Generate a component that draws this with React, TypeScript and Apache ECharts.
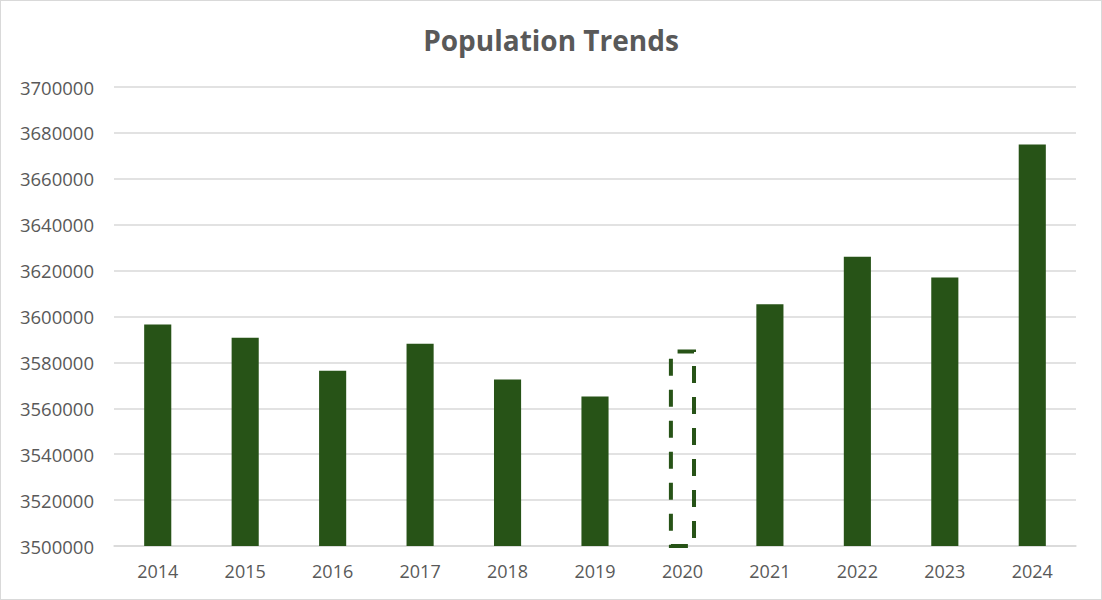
import React, { useEffect, useRef } from "react";
import * as echarts from "echarts";

const years = ["2014", "2015", "2016", "2017", "2018", "2019", "2020", "2021", "2022", "2023", "2024"];
const population = [3596500, 3590700, 3576400, 3588100, 3572500, 3565100, 3585600, 3605300, 3626000, 3617000, 3675000];
const estimatedYear = "2020";

export default function App() {
  const ref = useRef<HTMLDivElement>(null);
  useEffect(() => {
    document.body.style.margin = "0";
    const chart = echarts.init(ref.current!, null, { renderer: "svg" });
    const green = "#275317";
    chart.setOption({
      animation: false,
      backgroundColor: "#ffffff",
      title: {
        text: "Population Trends",
        left: "center",
        top: 20,
        textStyle: { fontFamily: "Open Sans", fontWeight: "bold", fontSize: 28, color: "#595959" },
      },
      grid: { left: 113, right: 25, top: 86, bottom: 53 },
      xAxis: {
        type: "category",
        data: years,
        axisLine: { show: true, lineStyle: { color: "#d9d9d9", width: 1.5 } },
        axisTick: { show: false },
        axisLabel: { color: "#595959", fontSize: 18, fontFamily: "Open Sans", margin: 16 },
      },
      yAxis: {
        type: "value",
        min: 3500000,
        max: 3700000,
        interval: 20000,
        axisLine: { show: false },
        axisTick: { show: false },
        splitLine: { lineStyle: { color: "#d9d9d9", width: 1.5 } },
        axisLabel: {
          color: "#595959",
          fontSize: 18.5,
          fontFamily: "Open Sans",
          margin: 20,
          formatter: (v: number) => String(v),
        },
      },
      series: [
        {
          type: "bar",
          barWidth: "31%",
          data: population.map((v, i) =>
            years[i] === estimatedYear
              ? {
                  value: v,
                  itemStyle: {
                    color: "rgba(0,0,0,0)",
                    borderColor: green,
                    borderWidth: 4,
                    borderType: [17, 14],
                  },
                }
              : { value: v, itemStyle: { color: green } }
          ),
        },
      ],
    });
    return () => chart.dispose();
  }, []);
  return (
    <div
      style={{
        position: "fixed",
        left: 0,
        top: 0,
        width: 1102,
        height: 600,
        boxSizing: "border-box",
        border: "1px solid #d9d9d9",
        background: "#fff",
      }}
    >
      <div ref={ref} style={{ width: 1100, height: 598 }} />
    </div>
  );
}
